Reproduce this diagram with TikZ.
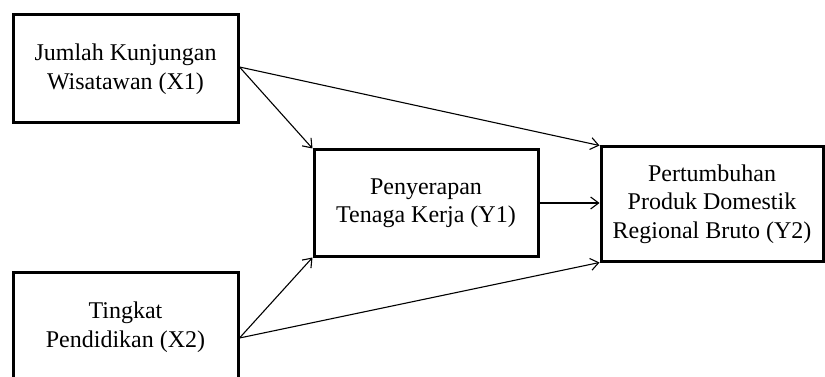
\documentclass[tikz,border=0pt]{standalone}
\usepackage{fontspec}
\setmainfont{Liberation Serif}
\usetikzlibrary{arrows.meta}
\begin{document}
\begin{tikzpicture}[x=1pt,y=-1pt,
  box/.style={draw=black,line width=3pt,rectangle,align=center,inner sep=0pt,
    font=\fontsize{24}{28.5}\selectfont},
  link/.style={line width=1.1pt,-{Straight Barb[length=8pt,width=12pt,line width=1.1pt]}}]
\useasboundingbox (0,0) rectangle (825,377);
\fill[white] (0,0) rectangle (825,377);
\node[box,minimum width=225pt,minimum height=108pt] (X1) at (125.5,69) {Jumlah Kunjungan\\Wisatawan (X1)};
\node[box,minimum width=225pt,minimum height=110pt] (X2) at (125.5,327) {Tingkat\\Pendidikan (X2)};
\node[box,minimum width=224pt,minimum height=106pt] (Y1) at (426,203) {Penyerapan\\Tenaga Kerja (Y1)};
\node[box,minimum width=222pt,minimum height=114pt] (Y2) at (712,204) {Pertumbuhan\\Produk Domestik\\Regional Bruto (Y2)};
\coordinate (x1s) at ([yshift=2pt]X1.east);
\coordinate (x2s) at ([yshift=-11pt]X2.east);
\draw[link] (x1s) -- (Y1.north west);
\draw[link] (x1s) -- (Y2.north west);
\draw[link] (Y1.east) -- (Y1.east -| Y2.west);
\draw[link] (x2s) -- (Y1.south west);
\draw[link] (x2s) -- (Y2.south west);
\end{tikzpicture}
\end{document}
